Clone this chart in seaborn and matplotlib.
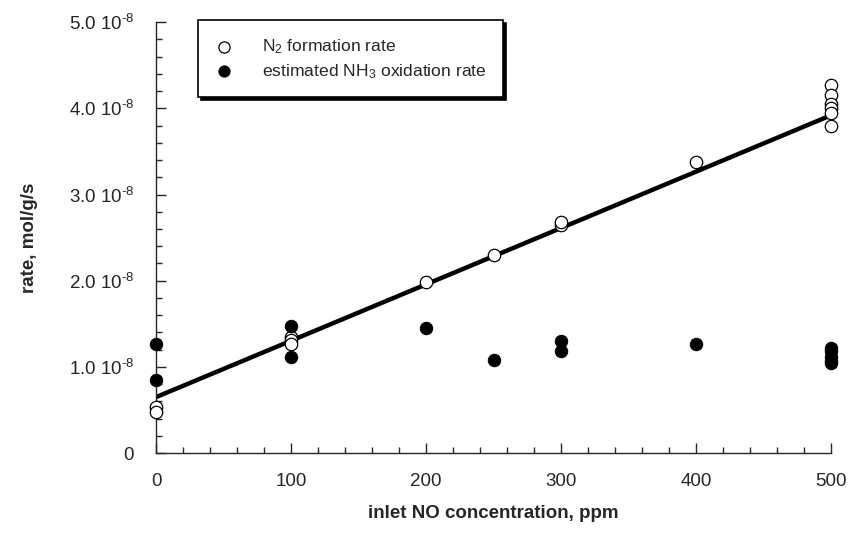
import numpy as np
import pandas as pd
import matplotlib
matplotlib.use("Agg")
import matplotlib.pyplot as plt
import seaborn as sns
from matplotlib.ticker import MultipleLocator, FuncFormatter

# N2 formation rate (open circles), units of 1e-8 mol/g/s
n2_x = [0, 0, 100, 100, 100, 200, 250, 300, 300, 400, 500, 500, 500, 500, 500, 500]
n2_y = [0.53, 0.48, 1.35, 1.31, 1.27, 1.98, 2.30, 2.65, 2.68, 3.38, 4.27, 4.15, 4.05, 4.00, 3.95, 3.80]

# estimated NH3 oxidation rate (filled circles)
nh3_x = [0, 0, 100, 100, 200, 250, 300, 300, 400, 500, 500, 500, 500, 500]
nh3_y = [1.26, 0.85, 1.48, 1.12, 1.45, 1.08, 1.30, 1.19, 1.27, 1.22, 1.18, 1.12, 1.07, 1.05]

# straight fit line through the N2 data
fit_x = [0, 500]
fit_y = [0.65, 3.92]

y_ticks = [0, 1, 2, 3, 4, 5]

n2 = pd.DataFrame({"x": n2_x, "y": np.array(n2_y) * 1e-8})
nh3 = pd.DataFrame({"x": nh3_x, "y": np.array(nh3_y) * 1e-8})
fit = pd.DataFrame({"x": fit_x, "y": np.array(fit_y) * 1e-8})

sns.set_style("ticks")
plt.rcParams["font.family"] = ["Liberation Sans", "DejaVu Sans"]
plt.rcParams["mathtext.fontset"] = "custom"
plt.rcParams["mathtext.rm"] = "Liberation Sans"
plt.rcParams["mathtext.it"] = "Liberation Sans"

fig = plt.figure(figsize=(8.49, 5.4), dpi=100)
ax = fig.add_axes([0.184, 0.161, 0.795, 0.798])

sns.lineplot(data=fit, x="x", y="y", ax=ax, color="black", lw=3.2, zorder=2)
sns.scatterplot(data=n2, x="x", y="y", ax=ax, marker="o", s=80,
                facecolor="white", edgecolor="black", linewidth=0.9,
                label="N$_2$ formation rate", zorder=3, clip_on=False)
sns.scatterplot(data=nh3, x="x", y="y", ax=ax, marker="o", s=80,
                color="black", edgecolor="black",
                label="estimated NH$_3$ oxidation rate", zorder=3, clip_on=False)

ax.set_xlim(0, 500)
ax.set_ylim(0, 5e-8)
ax.set_yticks([v * 1e-8 for v in y_ticks])
ax.xaxis.set_major_locator(MultipleLocator(100))
ax.xaxis.set_minor_locator(MultipleLocator(20))
ax.yaxis.set_minor_locator(MultipleLocator(0.2e-8))


def yfmt(v, pos):
    m = v / 1e-8
    if abs(m) < 1e-9:
        return "0"
    return f"{m:.1f} 10$^{{\\text{{-}}8}}$"


ax.yaxis.set_major_formatter(FuncFormatter(yfmt))
ax.tick_params(axis="both", which="major", direction="in", length=7,
               width=1, labelsize=13.5)
ax.tick_params(axis="x", which="major", pad=14)
ax.tick_params(axis="y", which="major", pad=16)
ax.tick_params(axis="both", which="minor", direction="in", length=4, width=1)
sns.despine(ax=ax)
for s in ["left", "bottom"]:
    ax.spines[s].set_linewidth(1)

ax.set_xlabel("inlet NO concentration, ppm", fontsize=13.5, fontweight="bold", labelpad=11)
ax.set_ylabel("rate, mol/g/s", fontsize=13.5, fontweight="bold", labelpad=22)

leg = ax.legend(loc="upper left", bbox_to_anchor=(0.057, 1.012), fontsize=12.6,
                frameon=True, fancybox=False, shadow={"color": "black", "alpha": 1},
                handlelength=1.0, handletextpad=1.7, borderpad=0.95,
                labelspacing=0.35, borderaxespad=0.2, markerscale=0.9)
leg.get_frame().set_edgecolor("black")
leg.get_frame().set_linewidth(1.2)

fig.savefig("out.png", dpi=100)
